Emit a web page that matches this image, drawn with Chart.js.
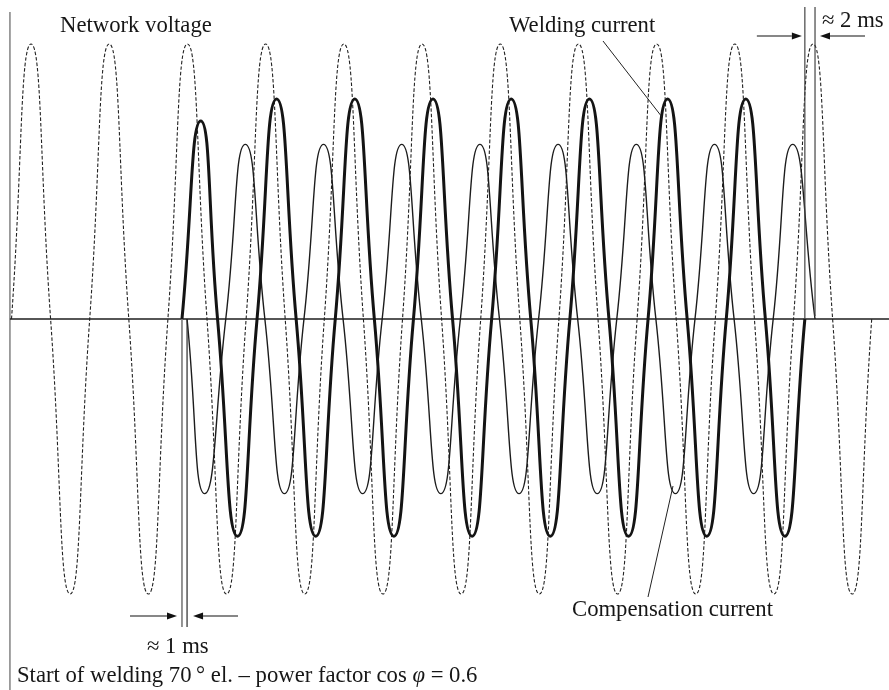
<!DOCTYPE html>
<html>
<head>
<meta charset="utf-8">
<script src="https://cdn.jsdelivr.net/npm/chart.js@4.4.1/dist/chart.umd.min.js"></script>
<style>
  html, body { margin: 0; padding: 0; background: #ffffff; }
  canvas { display: block; }
</style>
</head>
<body>
<canvas id="chart" width="889" height="690"></canvas>
<script>
// Time axis in ms (50 Hz mains, 20 ms per cycle); values relative to the mains voltage peak.

// Network voltage: zero crossings and peaks of each quarter cycle
const voltageTimes = [0, 5, 10, 15, 20, 25, 30, 35, 40, 45, 50, 55, 60, 65, 70, 75, 80, 85, 90, 95,
  100, 105, 110, 115, 120, 125, 130, 135, 140, 145, 150, 155, 160, 165, 170, 175, 180, 185, 190, 195,
  200, 205, 210, 215, 220];
const voltageValues = [0, 1, 0, -1, 0, 1, 0, -1, 0, 1, 0, -1, 0, 1, 0, -1, 0, 1, 0, -1,
  0, 1, 0, -1, 0, 1, 0, -1, 0, 1, 0, -1, 0, 1, 0, -1, 0, 1, 0, -1,
  0, 1, 0, -1, 0];

// Welding current: fired at 70° el., lagging the voltage (cos φ = 0.6)
const weldingTimes = [43.6, 48.4, 52.7, 57.8, 62.8, 67.8, 72.8, 77.8, 82.8, 87.8, 92.8, 97.8,
  102.8, 107.8, 112.8, 117.8, 122.8, 127.8, 132.8, 137.8, 142.8, 147.8, 152.8, 157.8,
  162.8, 167.8, 172.8, 177.8, 182.8, 187.8, 192.8, 197.8, 202.9];
const weldingValues = [0, 0.72, 0, -0.79, 0, 0.8, 0, -0.79, 0, 0.8, 0, -0.79,
  0, 0.8, 0, -0.79, 0, 0.8, 0, -0.79, 0, 0.8, 0, -0.79,
  0, 0.8, 0, -0.79, 0, 0.8, 0, -0.79, 0];

// Compensation (capacitor) current: leading the voltage by a quarter cycle
const compTimes = [44.9, 49.4, 54.8, 59.8, 64.8, 69.8, 74.8, 79.8, 84.8, 89.8, 94.8, 99.8,
  104.8, 109.8, 114.8, 119.8, 124.8, 129.8, 134.8, 139.8, 144.8, 149.8, 154.8, 159.8,
  164.8, 169.8, 174.8, 179.8, 184.8, 189.8, 194.8, 199.8, 205.5];
const compValues = [0, -0.635, 0, 0.635, 0, -0.635, 0, 0.635, 0, -0.635, 0, 0.635,
  0, -0.635, 0, 0.635, 0, -0.635, 0, 0.635, 0, -0.635, 0, 0.635,
  0, -0.635, 0, 0.635, 0, -0.635, 0, 0.635, 0];

// Dimension marks: switch-on of welding / compensation, and switch-off
const startMarks = [43.6, 44.9];
const endMarks = [202.9, 205.5];

const toPoints = (ts, vs) => ts.map((t, i) => ({ x: t, y: vs[i] }));

const SERIF = '"Liberation Serif", "Times New Roman", serif';
const FONT_PX = 22.7;

function arrow(ctx, x0, y0, x1, y1) {
  const ang = Math.atan2(y1 - y0, x1 - x0);
  const len = 10, half = 3.6;
  ctx.beginPath();
  ctx.moveTo(x0, y0);
  ctx.lineTo(x1 - len * Math.cos(ang), y1 - len * Math.sin(ang));
  ctx.stroke();
  ctx.beginPath();
  ctx.moveTo(x1, y1);
  ctx.lineTo(x1 - len * Math.cos(ang) - half * Math.sin(ang), y1 - len * Math.sin(ang) + half * Math.cos(ang));
  ctx.lineTo(x1 - len * Math.cos(ang) + half * Math.sin(ang), y1 - len * Math.sin(ang) - half * Math.cos(ang));
  ctx.closePath();
  ctx.fill();
}

const axesPlugin = {
  id: 'axesLines',
  beforeDatasetsDraw(chart) {
    const { ctx, scales: { x, y } } = chart;
    const y0 = y.getPixelForValue(0);
    const xa = x.getPixelForValue(-0.4);
    ctx.save();
    // vertical axis
    ctx.strokeStyle = '#8a8a8a';
    ctx.lineWidth = 1.6;
    ctx.beginPath();
    ctx.moveTo(xa, 12);
    ctx.lineTo(xa, chart.height);
    ctx.stroke();
    // time axis
    ctx.strokeStyle = '#1e1e1e';
    ctx.lineWidth = 1.4;
    ctx.beginPath();
    ctx.moveTo(xa, y0);
    ctx.lineTo(chart.width, y0);
    ctx.stroke();
    ctx.restore();
  },
  afterDatasetsDraw(chart) {
    const { ctx, scales: { x, y } } = chart;
    const y0 = y.getPixelForValue(0);
    ctx.save();

    // switch-on marks (≈ 1 ms)
    const s0 = x.getPixelForValue(startMarks[0]);
    const s1 = x.getPixelForValue(startMarks[1]);
    ctx.lineWidth = 1.6;
    ctx.strokeStyle = '#7a7a7a';
    ctx.beginPath(); ctx.moveTo(s0, y0); ctx.lineTo(s0, 627); ctx.stroke();
    ctx.lineWidth = 1.2;
    ctx.strokeStyle = '#2a2a2a';
    ctx.beginPath(); ctx.moveTo(s1, y0); ctx.lineTo(s1, 627); ctx.stroke();

    // switch-off marks (≈ 2 ms)
    const e0 = x.getPixelForValue(endMarks[0]);
    const e1 = x.getPixelForValue(endMarks[1]);
    ctx.lineWidth = 1.2;
    ctx.strokeStyle = '#444';
    ctx.beginPath(); ctx.moveTo(e0, 7); ctx.lineTo(e0, y0); ctx.stroke();
    ctx.beginPath(); ctx.moveTo(e1, 7); ctx.lineTo(e1, y0 - 3); ctx.stroke();

    // dimension arrows
    ctx.strokeStyle = '#111';
    ctx.fillStyle = '#111';
    ctx.lineWidth = 1.2;
    arrow(ctx, s0 - 52, 616, s0 - 5, 616);
    arrow(ctx, s1 + 51, 616, s1 + 6, 616);
    arrow(ctx, e0 - 48, 36, e0 - 3, 36);
    arrow(ctx, e1 + 50, 36, e1 + 5, 36);

    // leader lines
    ctx.lineWidth = 1;
    ctx.strokeStyle = '#222';
    ctx.beginPath(); ctx.moveTo(603, 41); ctx.lineTo(662, 117); ctx.stroke();
    ctx.beginPath(); ctx.moveTo(648, 597); ctx.lineTo(673, 486); ctx.stroke();

    // labels
    const regular = FONT_PX + 'px ' + SERIF;
    const italic = 'italic ' + FONT_PX + 'px ' + SERIF;
    ctx.fillStyle = '#161616';
    ctx.textBaseline = 'alphabetic';
    ctx.textAlign = 'left';
    ctx.font = regular;
    ctx.fillText('Network voltage', 60, 32);
    ctx.fillText('Welding current', 509, 32);
    ctx.fillText('\u2248 2 ms', 822, 27);
    ctx.fillText('Compensation current', 572, 616);
    ctx.fillText('\u2248 1 ms', 147, 653);

    let tx = 17;
    const part1 = 'Start of welding 70\u2009\u00B0 el. \u2013 power factor cos ';
    ctx.fillText(part1, tx, 682);
    tx += ctx.measureText(part1).width;
    ctx.font = italic;
    ctx.fillText('\u03C6', tx, 682);
    tx += ctx.measureText('\u03C6').width;
    ctx.font = regular;
    ctx.fillText(' = 0.6', tx, 682);

    ctx.restore();
  }
};

new Chart(document.getElementById('chart'), {
  type: 'line',
  data: {
    datasets: [
      {
        label: 'Welding current',
        data: toPoints(weldingTimes, weldingValues),
        borderColor: '#141414',
        borderWidth: 3,
        tension: 0.55,
        pointRadius: 0,
        fill: false
      },
      {
        label: 'Compensation current',
        data: toPoints(compTimes, compValues),
        borderColor: '#1c1c1c',
        borderWidth: 1.4,
        tension: 0.55,
        pointRadius: 0,
        fill: false
      },
      {
        label: 'Network voltage',
        data: toPoints(voltageTimes, voltageValues),
        borderColor: '#222',
        borderWidth: 1.1,
        borderDash: [3.5, 2],
        tension: 0.55,
        pointRadius: 0,
        fill: false
      }
    ]
  },
  options: {
    responsive: false,
    animation: false,
    events: [],
    layout: { padding: 0 },
    plugins: { legend: { display: false }, tooltip: { enabled: false }, title: { display: false } },
    scales: {
      x: { type: 'linear', display: false, min: -2.94, max: 224.42 },
      y: { type: 'linear', display: false, min: -1.349, max: 1.16 }
    }
  },
  plugins: [axesPlugin]
});
</script>
</body>
</html>
